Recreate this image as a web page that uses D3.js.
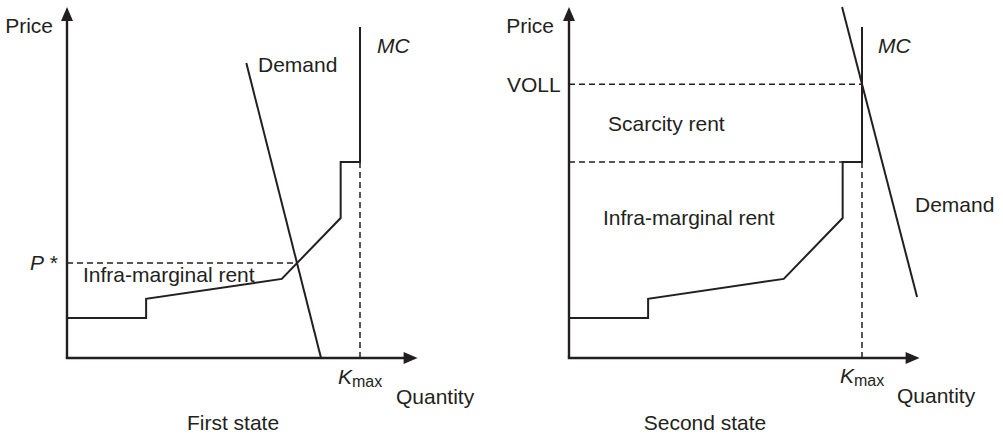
<!DOCTYPE html>
<html>
<head>
<meta charset="utf-8">
<script src="https://cdn.jsdelivr.net/npm/d3@7"></script>
<style>
html,body{margin:0;padding:0;background:#fff;}
svg text{font-family:"Liberation Sans",Arial,Helvetica,sans-serif;font-size:21px;fill:#231f20;}
</style>
</head>
<body>
<svg id="chart" width="1003" height="436"></svg>
<script>
// ---- data (abstract units: Kmax = 100) ----
const panels = ["First state", "Second state"];
const mcQuantity = [0, 27, 27, 73.3, 93.4, 93.4, 100, 100];
const mcPrice    = [13.6, 13.6, 20.1, 26.9, 47.6, 66.6, 66.6, 112.5];
const kmax = 100;
const stepPrice = 66.6;          // top of the step (before MC goes vertical)
const demand1Quantity = [61.2, 86.7];
const demand1Price    = [100.3, 0];
const pStar = 32.3;
const pStarQuantity = 78.5;
const demand2Quantity = [93.2, 118.8];
const demand2Price    = [119.3, 20.7];
const voll = 93.1;
const tickLabels = ["P *", "VOLL"];
const rentLabels = ["Infra-marginal rent", "Scarcity rent"];

const svg = d3.select("#chart");
const ink = "#231f20";
const yScale = d3.scaleLinear().domain([0, 120]).range([358, 5]);
const xLeft  = d3.scaleLinear().domain([0, 120]).range([67, 418.6]);
const xRight = d3.scaleLinear().domain([0, 120]).range([569, 920.6]);

function drawAxes(g, x) {
  const x0 = x(0), y0 = yScale(0);
  g.append("line").attr("x1", x0).attr("y1", y0).attr("x2", x0).attr("y2", yScale(120) + 12)
    .attr("stroke", ink).attr("stroke-width", 2.4);
  g.append("path").attr("d", `M${x0},${yScale(120)+2} L${x0-6},${yScale(120)+16} L${x0+6},${yScale(120)+16} Z`).attr("fill", ink);
  g.append("line").attr("x1", x0 - 1.2).attr("y1", y0).attr("x2", x(120) - 12).attr("y2", y0)
    .attr("stroke", ink).attr("stroke-width", 2.4);
  g.append("path").attr("d", `M${x(120)-1},${y0} L${x(120)-15},${y0-6} L${x(120)-15},${y0+6} Z`).attr("fill", ink);
}

function drawMC(g, x) {
  const line = d3.line().x(d => x(d[0])).y(d => yScale(d[1]));
  g.append("path").datum(d3.zip(mcQuantity, mcPrice)).attr("d", line)
    .attr("fill", "none").attr("stroke", ink).attr("stroke-width", 2).attr("stroke-linejoin", "miter");
  // Kmax dashed
  g.append("line").attr("x1", x(kmax)).attr("x2", x(kmax)).attr("y1", yScale(stepPrice)).attr("y2", yScale(0))
    .attr("stroke", ink).attr("stroke-width", 1.5).attr("stroke-dasharray", "6,4");
}

function dashedH(g, x, price, qEnd) {
  g.append("line").attr("x1", x(0)).attr("x2", x(qEnd)).attr("y1", yScale(price)).attr("y2", yScale(price))
    .attr("stroke", ink).attr("stroke-width", 1.5).attr("stroke-dasharray", "6,4");
}

function kmaxLabel(g, px, py) {
  const t = g.append("text").attr("x", px).attr("y", py);
  t.append("tspan").attr("font-style", "italic").text("K");
  t.append("tspan").attr("font-size", "16px").attr("dy", 3).text("max");
}

// ---------- Left panel ----------
const gL = svg.append("g");
dashedH(gL, xLeft, pStar, pStarQuantity);
drawMC(gL, xLeft);
gL.append("path").datum(d3.zip(demand1Quantity, demand1Price))
  .attr("d", d3.line().x(d => xLeft(d[0])).y(d => yScale(d[1])))
  .attr("fill", "none").attr("stroke", ink).attr("stroke-width", 2);
drawAxes(gL, xLeft);
gL.append("text").attr("x", 53).attr("y", 33).attr("text-anchor", "end").text("Price");
gL.append("text").attr("x", 377).attr("y", 53).attr("font-style", "italic").text("MC");
gL.append("text").attr("x", 258).attr("y", 72).text("Demand");
{
  const t = gL.append("text").attr("x", 30).attr("y", yScale(pStar) + 7);
  t.append("tspan").attr("font-style", "italic").text(tickLabels[0].split(" ")[0]);
  t.append("tspan").text(" " + tickLabels[0].split(" ")[1]);
}
gL.append("text").attr("x", 83).attr("y", 282).text(rentLabels[0]);
kmaxLabel(gL, 338, 384);
gL.append("text").attr("x", 396).attr("y", 404).text("Quantity");
gL.append("text").attr("x", 233).attr("y", 430).attr("text-anchor", "middle").text(panels[0]);

// ---------- Right panel ----------
const gR = svg.append("g");
dashedH(gR, xRight, voll, kmax);
dashedH(gR, xRight, stepPrice, mcQuantity[5]);
drawMC(gR, xRight);
gR.append("path").datum(d3.zip(demand2Quantity, demand2Price))
  .attr("d", d3.line().x(d => xRight(d[0])).y(d => yScale(d[1])))
  .attr("fill", "none").attr("stroke", ink).attr("stroke-width", 2);
drawAxes(gR, xRight);
gR.append("text").attr("x", 554).attr("y", 33).attr("text-anchor", "end").text("Price");
gR.append("text").attr("x", 507).attr("y", yScale(voll) + 8).text(tickLabels[1]);
gR.append("text").attr("x", 878).attr("y", 53).attr("font-style", "italic").text("MC");
gR.append("text").attr("x", 608).attr("y", 131).text(rentLabels[1]);
gR.append("text").attr("x", 603).attr("y", 225).text(rentLabels[0]);
gR.append("text").attr("x", 915).attr("y", 212).text("Demand");
kmaxLabel(gR, 840, 383);
gR.append("text").attr("x", 897).attr("y", 403).text("Quantity");
gR.append("text").attr("x", 705).attr("y", 430).attr("text-anchor", "middle").text(panels[1]);
</script>
</body>
</html>
